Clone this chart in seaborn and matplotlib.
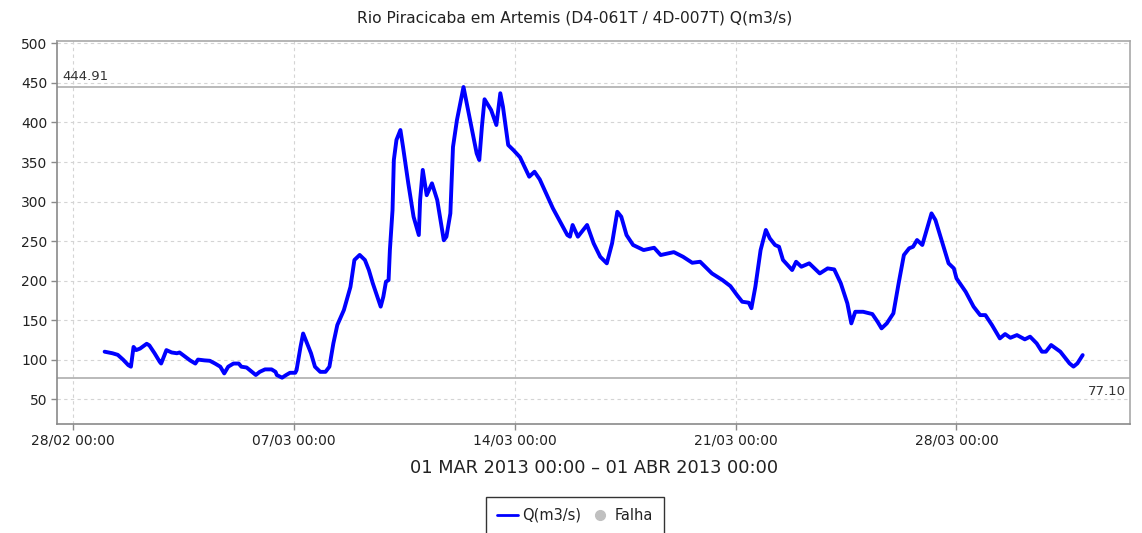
import matplotlib
matplotlib.use("Agg")
import matplotlib.pyplot as plt
import matplotlib.dates as mdates
from matplotlib.lines import Line2D
import numpy as np
import pandas as pd
import seaborn as sns

# Flow series: hours after 01/03/2013 00:00 and discharge in m3/s
hours = [0, 6, 10, 14, 18, 20, 22, 24, 27, 32, 34, 38, 42, 43, 47, 51, 55, 57, 61, 65,
         69, 71, 76, 80, 84, 88, 91, 94, 98, 102, 104, 108, 112, 115, 118, 122, 127, 130,
         131, 135, 138, 141, 145, 146, 149, 151, 154, 157, 160, 164, 168, 171, 174, 177,
         182, 187, 190, 194, 198, 201, 204, 210, 212, 214, 216, 217, 219, 220, 222, 225,
         227, 231, 235, 239, 240, 242, 245, 249, 253, 258, 260, 263, 265, 268, 273, 279,
         283, 285, 287, 289, 294, 298, 301, 303, 307, 311, 316, 323, 327, 331, 341, 352,
         354, 356, 360, 367, 372, 377, 382, 386, 390, 393, 397, 402, 410, 418, 423, 433,
         440, 447, 453, 462, 470, 476, 481, 485, 490, 492, 495, 499, 503, 506, 510, 513,
         516, 523, 526, 530, 536, 544, 550, 555, 560, 565, 568, 571, 577, 584, 588, 591,
         595, 600, 604, 608, 612, 615, 618, 622, 626, 629, 632, 637, 642, 646, 648, 655,
         661, 666, 670, 675, 681, 685, 689, 694, 700, 704, 709, 713, 716, 720, 727, 734,
         737, 740, 744]
flow = [110, 108, 106, 100, 93, 91, 116, 112, 114, 120, 118, 108, 97, 95, 112, 109, 108,
        109, 104, 99, 95, 100, 99, 98.5, 95, 91, 82.5, 91, 95, 95, 91, 90, 84.5, 80.5, 84.5,
        87.6, 87.6, 84.5, 80.4, 77.10, 80.4, 83.3, 83.3, 86.7, 116, 133, 120.5, 108, 91,
        84.5, 84.5, 91, 120.5, 143.7, 162.7, 192, 226, 232.4, 226, 213.3, 196.5, 167, 179.5,
        198.5, 200.6, 238.6, 289, 352.5, 378, 390.5, 369, 323, 280.8, 257.6, 301.9, 340,
        308, 323, 302, 251, 255.5, 285, 369, 403, 444.91, 394.7, 361, 352.5, 394.7, 429.4,
        415.8, 396.8, 437, 420, 371.5, 365, 356, 331.4, 337.7, 328, 291.4, 257.6, 255.5,
        270.3, 255.5, 270.3, 247, 230.1, 221.8, 247, 287, 280.8, 257.6, 245, 238.6, 241.5,
        232.3, 236, 230.1, 222.5, 223.8, 209, 200.6, 193, 181.7, 173.2, 172, 165, 192,
        238.6, 264, 253.4, 245, 242.8, 226.1, 213.3, 223.8, 217.5, 221.8, 209, 215.4,
        214.1, 196.5, 171.1, 145.8, 160.5, 160.5, 157.6, 147.8, 139.5, 145.8, 158.5, 196.5,
        232.3, 240.8, 242.8, 251.3, 245, 268.1, 285, 276.6, 249.1, 221.8, 215.4, 202.8,
        185.8, 167, 156.3, 156.3, 143.7, 126.8, 132.3, 127.6, 131, 125.6, 129, 120.5, 110,
        110, 118.4, 110, 95.2, 91.1, 95.2, 105.7]

start = pd.Timestamp("2013-03-01 00:00")
end = pd.Timestamp("2013-04-01 00:00")
tick_dates = pd.to_datetime(["2013-02-28", "2013-03-07", "2013-03-14",
                             "2013-03-21", "2013-03-28"])
y_ticks = [50, 100, 150, 200, 250, 300, 350, 400, 450, 500]

q_max = max(flow)
q_min = min(flow)

df = pd.DataFrame({"time": start + pd.to_timedelta(hours, unit="h"), "Q": flow})

sns.set_theme(style="white")
plt.rcParams["font.family"] = ["DejaVu Sans"]

fig = plt.figure(figsize=(11.42, 5.33), dpi=100)
ax = fig.add_axes([57.3 / 1142, 1 - 424 / 533, (1130 - 57.3) / 1142, (424 - 40.7) / 533])

sns.lineplot(data=df, x="time", y="Q", ax=ax, color="#0000ff", linewidth=2.8,
             legend=False, zorder=3)

# reference lines for the period max / min
ax.axhline(q_max, color="#b4b4b4", linewidth=1.3, zorder=2)
ax.axhline(q_min, color="#b4b4b4", linewidth=1.3, zorder=2)
ax.annotate(f"{q_max:.2f}", xy=(0, q_max), xycoords=("axes fraction", "data"),
            xytext=(4, 3), textcoords="offset points", ha="left", va="bottom",
            fontsize=9.5, color="#333333")
ax.annotate(f"{q_min:.2f}", xy=(1, q_min), xycoords=("axes fraction", "data"),
            xytext=(-3, -5), textcoords="offset points", ha="right", va="top",
            fontsize=9.5, color="#333333")

ax.set_xlim(start - pd.Timedelta(hours=36), end + pd.Timedelta(hours=36))
ax.set_ylim(18.5, 503.5)
ax.set_xticks(tick_dates)
ax.xaxis.set_major_formatter(mdates.DateFormatter("%d/%m %H:%M"))
ax.set_yticks(y_ticks)
ax.set_xlabel("")
ax.set_ylabel("")

ax.grid(True, color="#d4d4d4", linestyle=(0, (3, 3)), linewidth=0.8)
ax.set_axisbelow(True)
for side, sp in ax.spines.items():
    sp.set_visible(True)
    sp.set_color("#a8a8a8" if side in ("top", "right") else "#8a8a8a")
    sp.set_linewidth(1.2)
ax.tick_params(axis="both", which="major", length=4, width=1, color="#8a8a8a",
               direction="out", labelsize=10, labelcolor="#222222", pad=3,
               bottom=True, left=True)

fig.text(575 / 1142, 1 - 18 / 533, "Rio Piracicaba em Artemis (D4-061T / 4D-007T) Q(m3/s)",
         ha="center", va="center", fontsize=11.2, color="#222222")
fig.text(594 / 1142, 1 - 468 / 533, "01 MAR 2013 00:00 – 01 ABR 2013 00:00",
         ha="center", va="center", fontsize=12.8, color="#222222")

handles = [Line2D([], [], color="#0000ff", linewidth=2),
           Line2D([], [], color="#c0c0c0", marker="o", linestyle="none", markersize=7)]
leg = fig.legend(handles, ["Q(m3/s)", "Falha"], loc="upper center",
                 bbox_to_anchor=(575 / 1142, 1 - 497 / 533), ncol=2, frameon=True,
                 fancybox=False, fontsize=10.5, handlelength=1.4, handletextpad=0.3,
                 columnspacing=0.6, borderpad=0.75, borderaxespad=0)
leg.get_frame().set_edgecolor("#000000")
leg.get_frame().set_linewidth(1.0)
for t in leg.get_texts():
    t.set_color("#222222")

fig.savefig("out.png", dpi=100)
